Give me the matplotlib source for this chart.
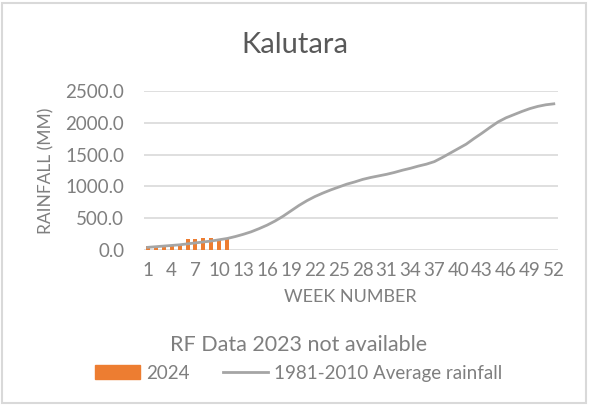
import matplotlib.pyplot as plt
from matplotlib.patches import Patch, Rectangle
from matplotlib.lines import Line2D

# -----------------------------
# data
# -----------------------------
weeks = list(range(1, 53))
avg_rainfall = [40, 50, 60, 70, 80, 95, 110, 125, 140, 160,
                180, 210, 245, 285, 335, 390, 455, 530, 615, 700,
                775, 840, 895, 945, 990, 1035, 1070, 1110, 1140, 1165,
                1190, 1220, 1255, 1285, 1320, 1350, 1390, 1455, 1525, 1595,
                1665, 1755, 1840, 1930, 2015, 2080, 2130, 2180, 2225, 2260,
                2285, 2300]
weeks_2024 = list(range(1, 12))
rf_2024 = [60, 62, 65, 70, 75, 165, 175, 180, 180, 175, 170]
tick_weeks = list(range(1, 53, 3))

orange = '#ED7D31'
line_grey = '#A5A5A5'
text_grey = '#7F7F7F'

plt.rcParams['font.family'] = ['Lato', 'DejaVu Sans']

fig = plt.figure(figsize=(5.89, 4.05), dpi=100)
fig.patches.append(Rectangle((0.004, 0.006), 0.991, 0.986, transform=fig.transFigure,
                             fill=False, edgecolor='#D9D9D9', linewidth=1.5))

ax = fig.add_axes([0.244, 0.383, 0.703, 0.392])
ax.bar(weeks_2024, rf_2024, width=0.5, color=orange, zorder=2)
ax.plot(weeks, avg_rainfall, color=line_grey, linewidth=2, zorder=3, clip_on=False)

ax.set_xlim(0.5, 52.5)
ax.set_ylim(0, 2500)
ax.set_yticks(range(0, 2501, 500))
ax.set_yticklabels([f'{v:.1f}' for v in range(0, 2501, 500)])
ax.set_xticks(tick_weeks)
ax.set_xticklabels([str(w) for w in tick_weeks])
ax.tick_params(length=0, labelsize=13.5, colors=text_grey)
ax.tick_params(axis='x', pad=9)
ax.tick_params(axis='y', pad=14)
ax.grid(axis='y', color='#D9D9D9', linewidth=1.2)
ax.set_axisbelow(True)
for s in ax.spines.values():
    s.set_visible(False)

ax.set_xlabel('WEEK NUMBER', fontsize=13, color=text_grey, labelpad=7)
ax.set_ylabel('RAINFALL (MM)', fontsize=12.5, color=text_grey, labelpad=8)
fig.text(0.5, 0.888, 'Kalutara', ha='center', va='center', fontsize=21, color='#595959')

handles = [Patch(color=orange), Line2D([], [], color=line_grey, linewidth=2)]
leg = fig.legend(handles, ['2024', '1981-2010 Average rainfall'], ncol=2,
                 loc='center', bbox_to_anchor=(0.507, 0.115), frameon=False,
                 fontsize=13.5, labelcolor=text_grey, handlelength=2.4,
                 handletextpad=0.3, columnspacing=1.8,
                 title='RF Data 2023 not available', title_fontsize=15.5)
leg.get_title().set_color(text_grey)

fig.savefig('out.png', dpi=100)
